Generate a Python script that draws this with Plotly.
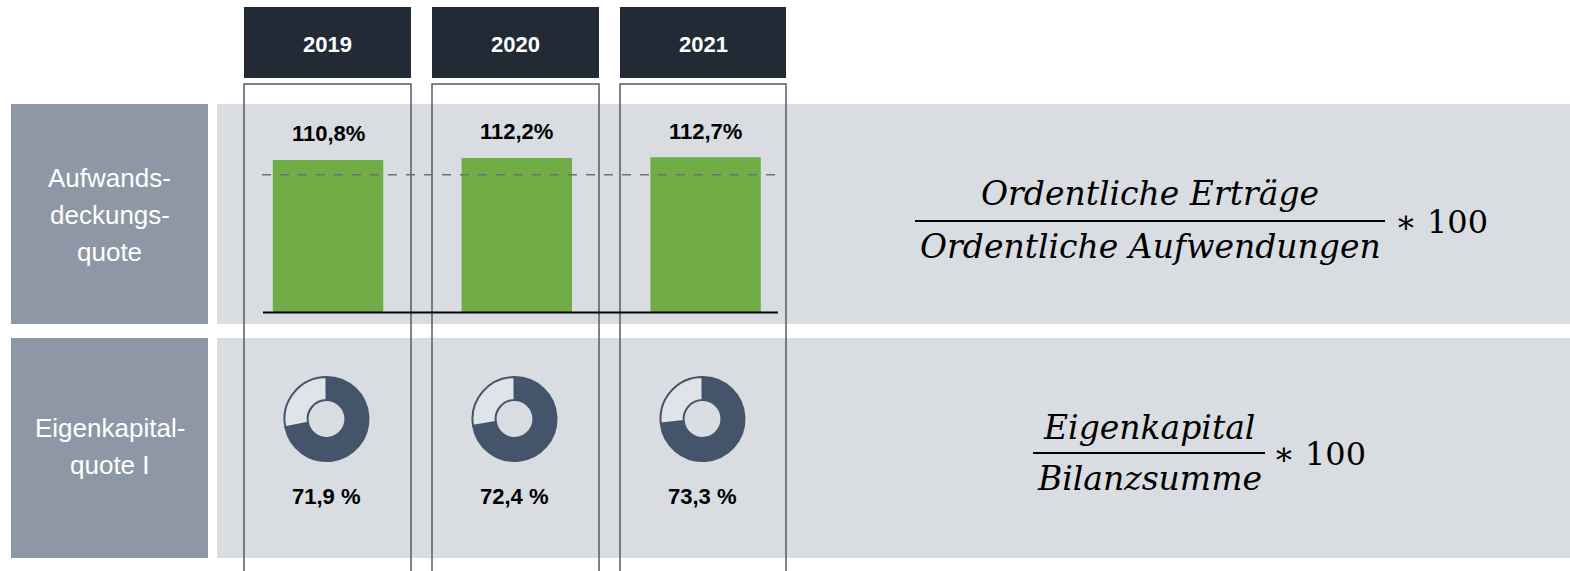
import plotly.graph_objects as go

# ---------------- data ----------------
years = ["2019", "2020", "2021"]
aufwandsdeckung = [110.8, 112.2, 112.7]          # %
aufwand_labels = ["110,8%", "112,2%", "112,7%"]
eigenkapital = [71.9, 72.4, 73.3]                # %
eigenkapital_labels = ["71,9 %", "72,4 %", "73,3 %"]
reference_line = 100
row_labels = [["Aufwands-", "deckungs-", "quote"], ["Eigenkapital-", "quote I"]]

W, H = 1570, 571
def px(x):
    return x / W
def py(y):
    return 1 - y / H

NARROW = "Liberation Sans Narrow, Arial Narrow, Liberation Sans, Arial, sans-serif"
SERIF = "DejaVu Serif, Cambria Math, serif"
DARK = "#222a36"
LABELBOX = "#8d97a5"
BAND = "#d9dce0"
GREEN = "#70ad47"
PIE = "#44546a"

fig = go.Figure()

# bars (one slot per year)
xpos = list(range(len(years)))
fig.add_trace(go.Bar(x=xpos, y=aufwandsdeckung, width=0.585, customdata=years,
                     marker=dict(color=GREEN, line=dict(width=0)),
                     showlegend=False, hoverinfo="skip"))

col_centers = [327.5, 515.5, 703.5]
col_edges = [(244, 411), (432, 599), (620, 786)]

# donuts
for i, v in enumerate(eigenkapital):
    cx, cy, r = col_centers[i] - 1, 419, 42
    fig.add_trace(go.Pie(values=[v, 100 - v], sort=False, direction="clockwise", rotation=0,
                         hole=0.45, textinfo="none", hoverinfo="skip", showlegend=False,
                         marker=dict(colors=[PIE, "#e0e3e7"], line=dict(color=PIE, width=2)),
                         domain=dict(x=[px(cx - r), px(cx + r)], y=[py(cy + r), py(cy - r)])))

# y scale: 1.377 px per percentage point, zero at pixel 312.5
y_lo, y_hi = -3, 140
k = 1.377
fig.update_layout(
    width=W, height=H, margin=dict(l=0, r=0, t=0, b=0),
    paper_bgcolor="white", plot_bgcolor="rgba(0,0,0,0)",
    xaxis=dict(domain=[px(233.6), px(800)], range=[-0.5, 2.5], showticklabels=False, showgrid=False,
               zeroline=False, fixedrange=True),
    yaxis=dict(domain=[py(312.5 - y_lo * k), py(312.5 - y_hi * k)], range=[y_lo, y_hi],
               showticklabels=False, showgrid=False, zeroline=False, fixedrange=True),
)

shapes = []
# row bands and label boxes
for (y0, y1) in [(104, 324), (338, 558)]:
    shapes.append(dict(type="rect", xref="paper", yref="paper", x0=px(217), x1=1, y0=py(y1), y1=py(y0),
                       fillcolor=BAND, line=dict(width=0), layer="below"))
    shapes.append(dict(type="rect", xref="paper", yref="paper", x0=px(11), x1=px(208), y0=py(y1), y1=py(y0),
                       fillcolor=LABELBOX, line=dict(width=0), layer="below"))
# header boxes and column outlines
for (x0, x1) in col_edges:
    shapes.append(dict(type="rect", xref="paper", yref="paper", x0=px(x0), x1=px(x1), y0=py(78), y1=py(7),
                       fillcolor=DARK, line=dict(width=0), layer="below"))
    shapes.append(dict(type="rect", xref="paper", yref="paper", x0=px(x0), x1=px(x1), y0=py(580), y1=py(84),
                       fillcolor="rgba(0,0,0,0)", line=dict(color="#5b5b5b", width=1.5), layer="above"))
# reference dashed line at 100 %
shapes.append(dict(type="line", xref="paper", yref="y", x0=px(262), x1=px(775), y0=reference_line,
                   y1=reference_line, line=dict(color="#707070", width=1.6, dash="dash")))
# baseline
shapes.append(dict(type="line", xref="paper", yref="y", x0=px(263), x1=px(778), y0=0, y1=0,
                   line=dict(color="black", width=2)))
# fraction lines
shapes.append(dict(type="line", xref="paper", yref="paper", x0=px(915), x1=px(1385), y0=py(221), y1=py(221),
                   line=dict(color="black", width=2)))
shapes.append(dict(type="line", xref="paper", yref="paper", x0=px(1033), x1=px(1265), y0=py(453), y1=py(453),
                   line=dict(color="black", width=2)))
fig.update_layout(shapes=shapes)

ann = []
# header years
for i, yr in enumerate(years):
    ann.append(dict(x=px(col_centers[i]), y=py(45), xref="paper", yref="paper", text=f"<b>{yr}</b>",
                    showarrow=False, font=dict(family=NARROW, size=22, color="white"),
                    xanchor="center", yanchor="middle"))
# bar labels
for i, lab in enumerate(aufwand_labels):
    ann.append(dict(x=xpos[i], y=aufwandsdeckung[i], xref="x", yref="y", text=f"<b>{lab}</b>",
                    showarrow=False, font=dict(family=NARROW, size=22, color="black"),
                    xanchor="center", yanchor="middle", yshift=26))
# donut labels
for i, lab in enumerate(eigenkapital_labels):
    ann.append(dict(x=px(col_centers[i] - 1), y=py(496), xref="paper", yref="paper", text=f"<b>{lab}</b>",
                    showarrow=False, font=dict(family=NARROW, size=22, color="black"),
                    xanchor="center", yanchor="middle"))
# row labels
for lines, ys in [(row_labels[0], [178, 215, 252]), (row_labels[1], [428, 465])]:
    for t, yy in zip(lines, ys):
        ann.append(dict(x=px(109.5), y=py(yy), xref="paper", yref="paper", text=t, showarrow=False,
                        font=dict(family=NARROW, size=26, color="white"), xanchor="center", yanchor="middle"))
# formulas
def ftxt(x, y, t, size=33, italic=True):
    s = f"<i>{t}</i>" if italic else t
    return dict(x=px(x), y=py(y), xref="paper", yref="paper", text=s, showarrow=False,
                font=dict(family=SERIF, size=size, color="black"), xanchor="center", yanchor="middle")
ann.append(ftxt(1150, 193, "Ordentliche Erträge"))
ann.append(ftxt(1150, 246, "Ordentliche Aufwendungen"))
ann.append(dict(x=px(1393), y=py(222), xref="paper", yref="paper", text="∗ 100", showarrow=False,
                font=dict(family=SERIF, size=32, color="black"), xanchor="left", yanchor="middle"))
ann.append(ftxt(1149, 427, "Eigenkapital"))
ann.append(ftxt(1149, 478, "Bilanzsumme"))
ann.append(dict(x=px(1271), y=py(454), xref="paper", yref="paper", text="∗ 100", showarrow=False,
                font=dict(family=SERIF, size=32, color="black"), xanchor="left", yanchor="middle"))
fig.update_layout(annotations=ann)

fig.write_html("out.html", config={"displayModeBar": False},
               post_script="document.body.style.margin='0';document.body.style.overflow='hidden';")
